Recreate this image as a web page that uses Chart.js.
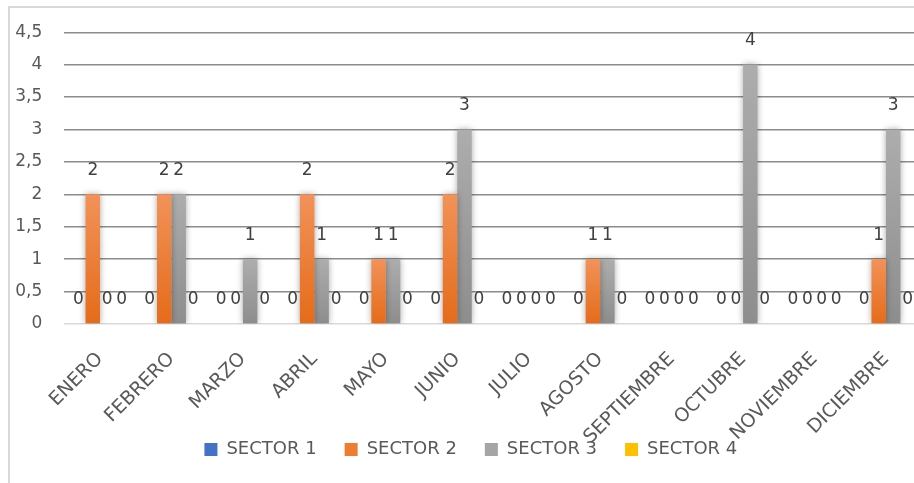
<!DOCTYPE html>
<html>
<head>
<meta charset="utf-8">
<script src="https://cdn.jsdelivr.net/npm/chart.js@4.4.1/dist/chart.umd.min.js"></script>
<style>
  html, body { margin: 0; padding: 0; background: #ffffff; overflow: hidden; width: 914px; height: 483px; }
  #wrap { position: absolute; left: 0; top: 0; width: 940px; height: 483px; }
</style>
</head>
<body>
<div id="wrap"><canvas id="c" width="940" height="483"></canvas></div>
<script>
const categories = ['ENERO','FEBRERO','MARZO','ABRIL','MAYO','JUNIO','JULIO','AGOSTO','SEPTIEMBRE','OCTUBRE','NOVIEMBRE','DICIEMBRE'];
const sector1 = [0,0,0,0,0,0,0,0,0,0,0,0];
const sector2 = [2,2,0,2,1,2,0,1,0,0,0,1];
const sector3 = [0,2,1,1,1,3,0,1,0,4,0,3];
const sector4 = [0,0,0,0,0,0,0,0,0,0,0,0];
const seriesNames = ['SECTOR 1','SECTOR 2','SECTOR 3','SECTOR 4'];
const yTickLabels = ['0','0,5','1','1,5','2','2,5','3','3,5','4','4,5'];

const FONT = 'DejaVu Sans';
const palette = [
  { top: '#5A86D3', bottom: '#2F5CB0', solid: '#4472C4' },
  { top: '#F29259', bottom: '#E56B19', solid: '#ED7D31' },
  { top: '#ADADAD', bottom: '#8D8D8D', solid: '#A5A5A5' },
  { top: '#FFCB33', bottom: '#F2B200', solid: '#FFC000' }
];

function barFill(idx) {
  return function (ctx) {
    const chart = ctx.chart;
    const p = palette[idx];
    if (ctx.type !== 'data' || !chart.scales || !chart.scales.y || !chart.chartArea) return p.solid;
    const ys = chart.scales.y;
    const top = ys.getPixelForValue(ctx.raw);
    const bottom = ys.getPixelForValue(0);
    if (!isFinite(top) || !isFinite(bottom) || bottom - top < 1) return p.solid;
    const g = chart.ctx.createLinearGradient(0, top, 0, bottom);
    g.addColorStop(0, p.top);
    g.addColorStop(1, p.bottom);
    return g;
  };
}

const frame = {
  id: 'frame',
  afterLayout(chart) {
    chart.scales.y.left = 0;
    chart.scales.x.bottom = chart.height;
  },
  beforeDraw(chart) {
    const c = chart.ctx;
    c.save();
    c.strokeStyle = '#D9D9D9';
    c.lineWidth = 2;
    c.beginPath();
    c.moveTo(9, chart.height + 5);
    c.lineTo(9, 7);
    c.lineTo(chart.width + 5, 7);
    c.stroke();
    c.restore();
  }
};

const shadow = {
  id: 'shadow',
  beforeDatasetsDraw(chart) {
    const c = chart.ctx;
    c.save();
    c.shadowColor = 'rgba(0,0,0,0.35)';
    c.shadowBlur = 6;
    c.shadowOffsetX = 0;
    c.shadowOffsetY = 0;
  },
  afterDatasetsDraw(chart) {
    chart.ctx.restore();
  }
};

const labels = {
  id: 'vlabels',
  afterDatasetsDraw(chart) {
    const c = chart.ctx;
    c.save();
    c.font = '17px "' + FONT + '"';
    c.fillStyle = '#404040';
    c.textAlign = 'center';
    c.textBaseline = 'middle';
    chart.data.datasets.forEach((ds, di) => {
      const meta = chart.getDatasetMeta(di);
      meta.data.forEach((el, i) => {
        c.fillText(String(ds.data[i]), el.x, el.y - 24);
      });
    });
    c.restore();
  }
};

const dataSeries = [sector1, sector2, sector3, sector4];

new Chart(document.getElementById('c'), {
  type: 'bar',
  data: {
    labels: categories,
    datasets: dataSeries.map((d, i) => ({
      label: seriesNames[i],
      data: d,
      backgroundColor: barFill(i),
      borderWidth: 0,
      barPercentage: 1.0,
      categoryPercentage: 0.81
    }))
  },
  options: {
    responsive: false,
    animation: false,
    devicePixelRatio: 1,
    layout: { padding: { left: 20, right: 18.3, top: 30, bottom: 14.5 } },
    plugins: {
      legend: {
        position: 'bottom',
        labels: {
          font: { family: FONT, size: 18 },
          color: '#595959',
          boxWidth: 13,
          boxHeight: 13,
          padding: 28,
          generateLabels(chart) {
            return seriesNames.map((n, i) => ({
              text: n,
              fillStyle: palette[i].solid,
              strokeStyle: palette[i].solid,
              lineWidth: 0,
              hidden: false,
              datasetIndex: i,
              fontColor: '#595959'
            }));
          }
        }
      },
      tooltip: { enabled: false }
    },
    scales: {
      x: {
        grid: { display: false, drawTicks: false },
        border: { display: false },
        ticks: {
          font: { family: FONT, size: 19 },
          color: '#595959',
          minRotation: 45,
          maxRotation: 45,
          padding: 24,
          autoSkip: false
        },
        afterFit(scale) { scale.height = 88.5; }
      },
      y: {
        min: 0,
        max: 4.5,
        grid: {
          drawTicks: false,
          color: (ctx) => (ctx.tick && ctx.tick.value === 0) ? '#D9D9D9' : '#8C8C8C',
          lineWidth: 1.4
        },
        border: { display: false },
        ticks: {
          stepSize: 0.5,
          font: { family: FONT, size: 17 },
          color: '#595959',
          padding: 22,
          callback: (v, i) => yTickLabels[i]
        },
        afterFit(scale) { scale.width = 44.3; }
      }
    }
  },
  plugins: [frame, shadow, labels]
});
</script>
</body>
</html>
